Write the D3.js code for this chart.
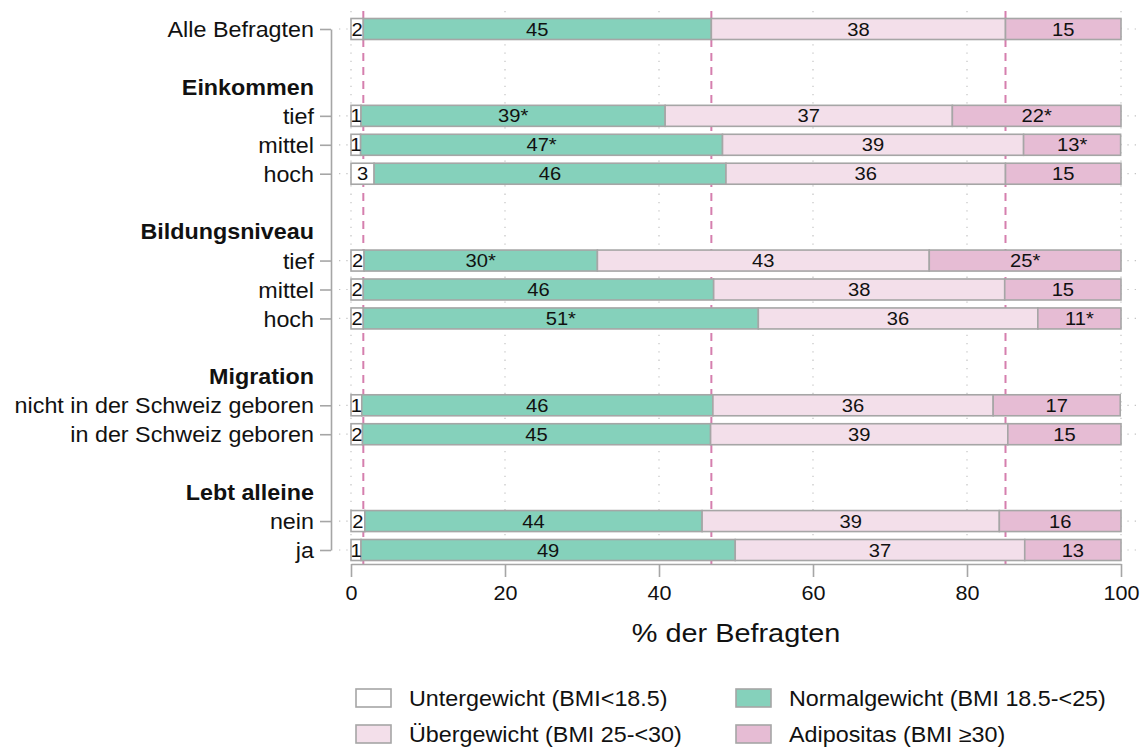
<!DOCTYPE html>
<html><head><meta charset="utf-8">
<script src="https://cdn.jsdelivr.net/npm/d3@7"></script>
<style>body{margin:0;background:#fff}svg{display:block;font-family:"Liberation Sans",Arial,sans-serif}</style>
</head><body><svg id="c" width="1148" height="749"></svg>
<script>
// ---- data ----
const groups = ["", "Einkommen", "Bildungsniveau", "Migration", "Lebt alleine"];
const categories = ["Alle Befragten","tief","mittel","hoch","tief","mittel","hoch","nicht in der Schweiz geboren","in der Schweiz geboren","nein","ja"];
const categoryGroup = [0,1,1,1,2,2,2,3,3,4,4];
const untergewicht  = [1.6,1.3,1.25,3.0,1.7,1.6,1.6,1.4,1.5,1.8,1.3];
const normalgewicht = [45.2,39.5,47.0,45.7,30.3,45.5,51.3,45.6,45.2,43.8,48.6];
const uebergewicht  = [38.2,37.3,39.1,36.3,43.1,37.8,36.3,36.4,38.6,38.6,37.6];
const adipositas    = [15.0,21.9,12.6,15.0,24.9,15.1,10.8,16.5,14.7,15.8,12.5];
const untergewichtLabels  = ["2","1","1","3","2","2","2","1","2","2","1"];
const normalgewichtLabels = ["45","39*","47*","46","30*","46","51*","46","45","44","49"];
const uebergewichtLabels  = ["38","37","39","36","43","38","36","36","39","39","37"];
const adipositasLabels    = ["15","22*","13*","15","25*","15","11*","17","15","16","13"];
const seriesNames = ["Untergewicht (BMI<18.5)","Normalgewicht (BMI 18.5-<25)","Übergewicht (BMI 25-<30)","Adipositas (BMI ≥30)"];
const seriesColors = ["#ffffff","#85d1bb","#f3dfea","#e6bcd4"];
const xTicks = [0,20,40,60,80,100];
const xTitle = "% der Befragten";

// ---- layout rows ----
const rows = [];
categories.forEach((c,i)=>{
  const g = categoryGroup[i];
  if (g>0 && (i===0 || categoryGroup[i-1]!==g)) {
    rows.push({type:"blank"}); rows.push({type:"header", label:groups[g]});
  }
  rows.push({type:"data", i, label:c});
});

const SX = 1.09;
const svg = d3.select("#c");
const x = d3.scaleLinear().domain([0,100]).range([351,1121]);
const y = d3.scalePoint().domain(d3.range(rows.length)).range([29,550]);
const barH = 21;
const grey = "#a6a6a6";

function stretch(sel){
  sel.each(function(){
    const t = d3.select(this);
    const tx = +t.attr("x")||0, ty = +t.attr("y")||0;
    t.attr("x",0).attr("y",0).attr("transform",`translate(${tx},${ty}) scale(${SX},1)`);
  });
}

// grid
const dataSlots = rows.map((r,k)=>r.type==="data"?k:null).filter(k=>k!==null);
svg.append("g").selectAll("line").data(xTicks).join("line")
  .attr("x1",d=>x(d)).attr("x2",d=>x(d)).attr("y1",11).attr("y2",562)
  .attr("stroke","#c4c4c4").attr("stroke-width",1.2).attr("stroke-dasharray","1.3,7");
svg.append("g").selectAll("line").data(dataSlots).join("line")
  .attr("x1",339).attr("x2",1136).attr("y1",d=>y(d)).attr("y2",d=>y(d))
  .attr("stroke","#c4c4c4").attr("stroke-width",1.2).attr("stroke-dasharray","1.3,6");

// reference lines (cumulative of Alle Befragten)
const refs = [untergewicht[0], untergewicht[0]+normalgewicht[0], untergewicht[0]+normalgewicht[0]+uebergewicht[0]];
svg.append("g").selectAll("line").data(refs).join("line")
  .attr("x1",d=>x(d)).attr("x2",d=>x(d)).attr("y1",11).attr("y2",565)
  .attr("stroke","#d57fae").attr("stroke-width",2).attr("stroke-dasharray","8,6");

// bars
const seriesVals = [untergewicht, normalgewicht, uebergewicht, adipositas];
const seriesLabs = [untergewichtLabels, normalgewichtLabels, uebergewichtLabels, adipositasLabels];
const segs = [];
rows.forEach((r,k)=>{
  if (r.type!=="data") return;
  let c = 0;
  seriesVals.forEach((arr,s)=>{
    segs.push({k, s, x0:c, x1:c+arr[r.i], lab:seriesLabs[s][r.i]});
    c += arr[r.i];
  });
});
const bars = svg.append("g");
bars.selectAll("rect").data(segs).join("rect")
  .attr("x",d=>x(d.x0)).attr("width",d=>x(d.x1)-x(d.x0))
  .attr("y",d=>y(d.k)-barH/2).attr("height",barH)
  .attr("fill",d=>seriesColors[d.s]).attr("stroke",grey).attr("stroke-width",1.6);
bars.selectAll("text").data(segs).join("text")
  .attr("x",d=>(x(d.x0)+x(d.x1))/2).attr("y",d=>y(d.k)+6.6)
  .attr("text-anchor","middle").attr("font-size",18.5).attr("fill","#111")
  .text(d=>d.lab).call(stretch);

// y axis
const yAxis = d3.axisLeft(y).tickValues(dataSlots).tickFormat(k=>rows[k].label).tickSize(11).tickSizeOuter(0).tickPadding(6);
const ga = svg.append("g").attr("transform","translate(331,0)").call(yAxis);
ga.select(".domain").attr("stroke",grey).attr("stroke-width",1.6);
ga.selectAll(".tick line").attr("stroke",grey).attr("stroke-width",1.6);
ga.selectAll(".tick text").attr("font-size",21.4).attr("fill","#111").attr("dy",null).attr("y",7.7)
  .attr("font-family",'"Liberation Sans",Arial,sans-serif').call(stretch);
// group headers
svg.append("g").selectAll("text").data(rows.map((r,k)=>({r,k})).filter(d=>d.r.type==="header")).join("text")
  .attr("x",314).attr("y",d=>y(d.k)+7.7).attr("text-anchor","end")
  .attr("font-size",21.4).attr("font-weight","bold").attr("fill","#111")
  .text(d=>d.r.label).call(stretch);

// x axis
const xAxis = d3.axisBottom(x).tickValues(xTicks).tickSize(13).tickSizeOuter(0).tickPadding(8);
const gx = svg.append("g").attr("transform","translate(0,564)").call(xAxis);
gx.select(".domain").attr("stroke",grey).attr("stroke-width",1.6);
gx.selectAll(".tick line").attr("stroke",grey).attr("stroke-width",1.6);
gx.selectAll(".tick text").attr("font-size",19.8).attr("fill","#111").attr("dy",null).attr("y",36)
  .attr("font-family",'"Liberation Sans",Arial,sans-serif').call(stretch);
svg.append("text").attr("x",736).attr("y",642).attr("text-anchor","middle")
  .attr("font-size",26.5).attr("fill","#111").text(xTitle).call(stretch);

// legend
const legPos = [[356,698],[736,698],[356,734],[736,734]];
const lg = svg.append("g");
seriesNames.forEach((n,s)=>{
  const [lx,ly] = legPos[s];
  lg.append("rect").attr("x",lx).attr("y",ly-9).attr("width",35).attr("height",18)
    .attr("fill",seriesColors[s]).attr("stroke",grey).attr("stroke-width",1.6);
  lg.append("text").attr("x",lx+53).attr("y",ly+7.7).attr("font-size",21.4).attr("fill","#111").text(n).call(stretch);
});
</script></body></html>
